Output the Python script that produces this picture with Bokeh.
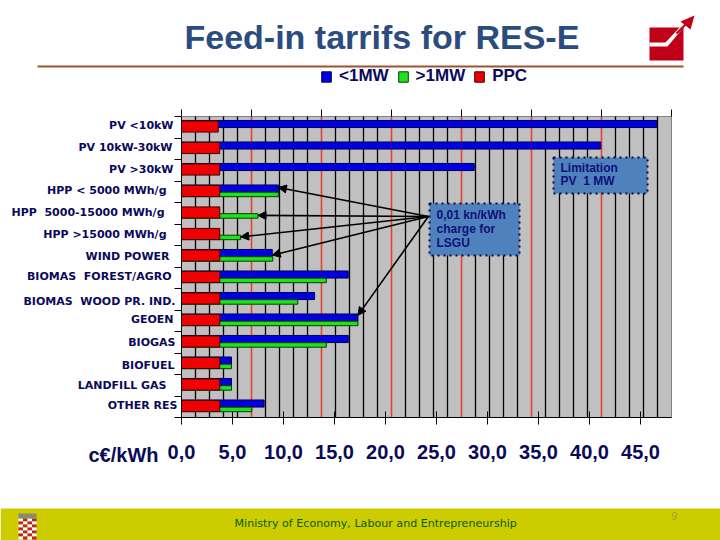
import numpy as np
from bokeh.core.properties import value
from bokeh.embed import file_html
from bokeh.models import Arrow, FixedTicker, Legend, LegendItem, LinearAxis, NormalHead, Range1d
from bokeh.plotting import figure
from bokeh.resources import INLINE

categories = ["PV <10kW", "PV 10kW-30kW", "PV >30kW", "HPP < 5000 MWh/g", "HPP \u00a05000-15000 MWh/g",
              "HPP >15000 MWh/g", "WIND POWER", "BIOMAS \u00a0FOREST/AGRO", "BIOMAS \u00a0WOOD PR. IND.",
              "GEOEN", "BIOGAS", "BIOFUEL", "LANDFILL GAS", "OTHER RES"]
nan = float("nan")
under_1mw = [46.6, 41.1, 28.7, 9.5, nan, nan, 8.9, 16.35, 13.05, 17.3, 16.35, 4.9, 4.9, 8.1]
over_1mw = [nan, nan, nan, 9.5, 7.5, 5.8, 8.95, 14.2, 11.4, 17.3, 14.2, 4.9, 4.9, 6.9]
ppc = [3.6, 3.75, 3.75, 3.75, 3.75, 3.75, 3.75, 3.75, 3.75, 3.75, 3.75, 3.75, 3.75, 3.75]
tick_labels = ["0,0", "5,0", "10,0", "15,0", "20,0", "25,0", "30,0", "35,0", "40,0", "45,0"]
tick_values = [0, 5, 10, 15, 20, 25, 30, 35, 40, 45]
# the labels on the left do not line up in the original, gap to the axis and shift off the row centre in px
label_gap = [8, 9, 8, 15, 17, 15, 12, 10, 6, 8, 6, 7, 15, 4]
label_shift = [-1.5, -1.5, -1, -1.5, -1, -0.5, 0, -1, 2, -1, 0, 2, 0, -1]

NAVY = "#0a0a5a"
rows = np.arange(len(categories))
major = [10, 20, 30, 40, 50, 60]
minor = [t for t in range(2, 70, 2) if t % 10 != 0]

# the frame is the whole page: plot area starts at 181,116 with 10.2 px per c/kWh and 21.5 px per row
p = figure(width=720, height=540, output_backend="svg", toolbar_location=None,
           x_range=Range1d(-181 / 10.2, 539 / 10.2), y_range=Range1d(424 / 21.5, -116 / 21.5),
           x_axis_type=None, y_axis_type=None, min_border=0, outline_line_color=None,
           background_fill_color="white", border_fill_color="white")
p.extra_x_ranges["top"] = Range1d(-181 / 7, 539 / 7)
p.extra_x_ranges["px"] = Range1d(0, 720)
p.extra_y_ranges["px"] = Range1d(540, 0)

p.quad(left=0, right=490 / 10.2, top=0, bottom=14, fill_color="#c0c0c0", line_color="#808080")
p.segment(x0=minor, x1=minor, y0=0, y1=14, x_range_name="top", line_color="black", line_width=1.3)
p.segment(x0=major, x1=major, y0=0, y1=14, x_range_name="top", line_color="#e8402f", line_width=1.6)

blue = p.hbar(y=rows + 0.35, right=under_1mw, left=0, height=0.33, fill_color="#0000e0", line_color="#000050")
green = p.hbar(y=rows + 0.625, right=over_1mw, left=0, height=0.21, fill_color="#20e020", line_color="#004000")
red = p.hbar(y=rows + 0.465, right=ppc, left=0, height=0.52, fill_color="#f00000", line_color="#400000")

# axes
xaxis = LinearAxis(fixed_location=14, bounds=(0, 490 / 10.2), ticker=FixedTicker(ticks=tick_values),
                   major_label_overrides=dict(zip(tick_values, tick_labels)), major_label_standoff=20,
                   major_label_text_font="Liberation Sans", major_label_text_font_size="20px",
                   major_label_text_font_style="bold", major_label_text_color=NAVY,
                   major_tick_in=6, major_tick_out=7, minor_tick_line_color=None)
p.add_layout(xaxis, "below")
top_ticks = [0] + major + [70]
top = LinearAxis(fixed_location=0, x_range_name="top", ticker=FixedTicker(ticks=top_ticks),
                 major_label_overrides={t: "" for t in top_ticks}, major_tick_in=7, major_tick_out=0,
                 minor_tick_line_color=None, axis_line_color=None)
p.add_layout(top, "below")
yaxis = LinearAxis(fixed_location=0, bounds=(0, 14), ticker=FixedTicker(ticks=list(range(15))),
                   major_label_overrides={t: "" for t in range(15)}, major_tick_in=0, major_tick_out=7,
                   minor_tick_line_color=None)
p.add_layout(yaxis, "left")

p.text(x=np.zeros(len(categories)), y=rows + 0.5, x_offset=[-g for g in label_gap], y_offset=label_shift,
       text=categories, text_align="right", text_baseline="middle", text_font=value("DejaVu Sans"),
       text_font_style="bold", text_font_size="11px", text_color=NAVY)

legend = Legend(items=[LegendItem(label=value("<1MW"), renderers=[blue]), LegendItem(label=value(">1MW"), renderers=[green]),
                       LegendItem(label=value("PPC"), renderers=[red])],
                orientation="horizontal", location=(320, 454), background_fill_alpha=0, border_line_color=None,
                glyph_width=12, glyph_height=13, label_standoff=7, spacing=8, padding=0, margin=0,
                label_text_font="Liberation Sans", label_text_font_size="17px", label_text_font_style="bold",
                label_text_color=NAVY)
p.add_layout(legend, "center")


# everything else is page furniture, in picture px
def px_text(x, y, txt, font="Liberation Sans", size="12px", style="normal", color=NAVY):
    p.text(x=[x], y=[y], text=[txt], x_range_name="px", y_range_name="px", text_baseline="middle",
           text_font=value(font), text_font_size=size, text_font_style=style, text_color=color)


def px_box(left, right, top, bottom, color, **kw):
    p.quad(left=left, right=right, top=top, bottom=bottom, x_range_name="px", y_range_name="px",
           fill_color=color, line_color=kw.pop("line_color", None), **kw)


px_text(184, 36, "Feed-in tarrifs for RES-E", size="34px", style="bold", color="#2b4c7e")
px_box(37, 683, 65, 67, "#a0522d")
px_text(88, 454, "c€/kWh", size="20px", style="bold")

# logo
px_box(649, 683, 27, 60, "#c00018")
p.patch(x=[649, 665, 679, 683, 667, 649], y=[42, 42, 27, 27, 46, 46], x_range_name="px", y_range_name="px",
        fill_color="white", line_color=None)
p.line(x=[676, 690], y=[33, 19], x_range_name="px", y_range_name="px", line_color="#c00018", line_width=2)
p.patch(x=[694, 680, 690], y=[15, 21, 29], x_range_name="px", y_range_name="px", fill_color="#c00018", line_color=None)

# callouts
px_box(553, 647, 157, 193, "#4f81bd", line_color="#0a0a3a", line_width=2, line_dash="dotted")
px_box(429, 519, 203, 255, "#4f81bd", line_color="#0a0a3a", line_width=2, line_dash="dotted")
for x, y, txt in [(560, 167, "Limitation"), (560, 180, "PV \u00a01 MW"), (436, 214, "0,01 kn/kWh"),
                  (436, 228, "charge for"), (436, 242, "LSGU")]:
    px_text(x, y, txt, size="12px", style="bold", color="#10107a")

# footer
px_box(0, 720, 508, 540, "#cccc00")
px_text(234, 523, "Ministry of Economy, Labour and Entrepreneurship", font="DejaVu Sans", size="11.1px", color="#0a5a0a")
px_text(671, 515, "9", size="10px", color="#a0a040")
for r in range(7):
    for c in range(4):
        px_box(18 + c * 4.5, 22.5 + c * 4.5, 518 + r * 3, 521 + r * 3, "#c02030" if (r + c) % 2 else "white")
px_box(18, 36, 513, 518, "#8a8a70")

for row, end in [(3.3, under_1mw[3]), (4.6, over_1mw[4]), (5.6, over_1mw[5]), (6.45, under_1mw[6]), (9.25, under_1mw[9])]:
    p.add_layout(Arrow(x_start=24.2, y_start=4.65, x_end=end, y_end=row, line_color="black", line_width=1.6,
                       end=NormalHead(size=8, fill_color="black", line_color="black")))

open("out.html", "w").write(file_html(p, INLINE))
